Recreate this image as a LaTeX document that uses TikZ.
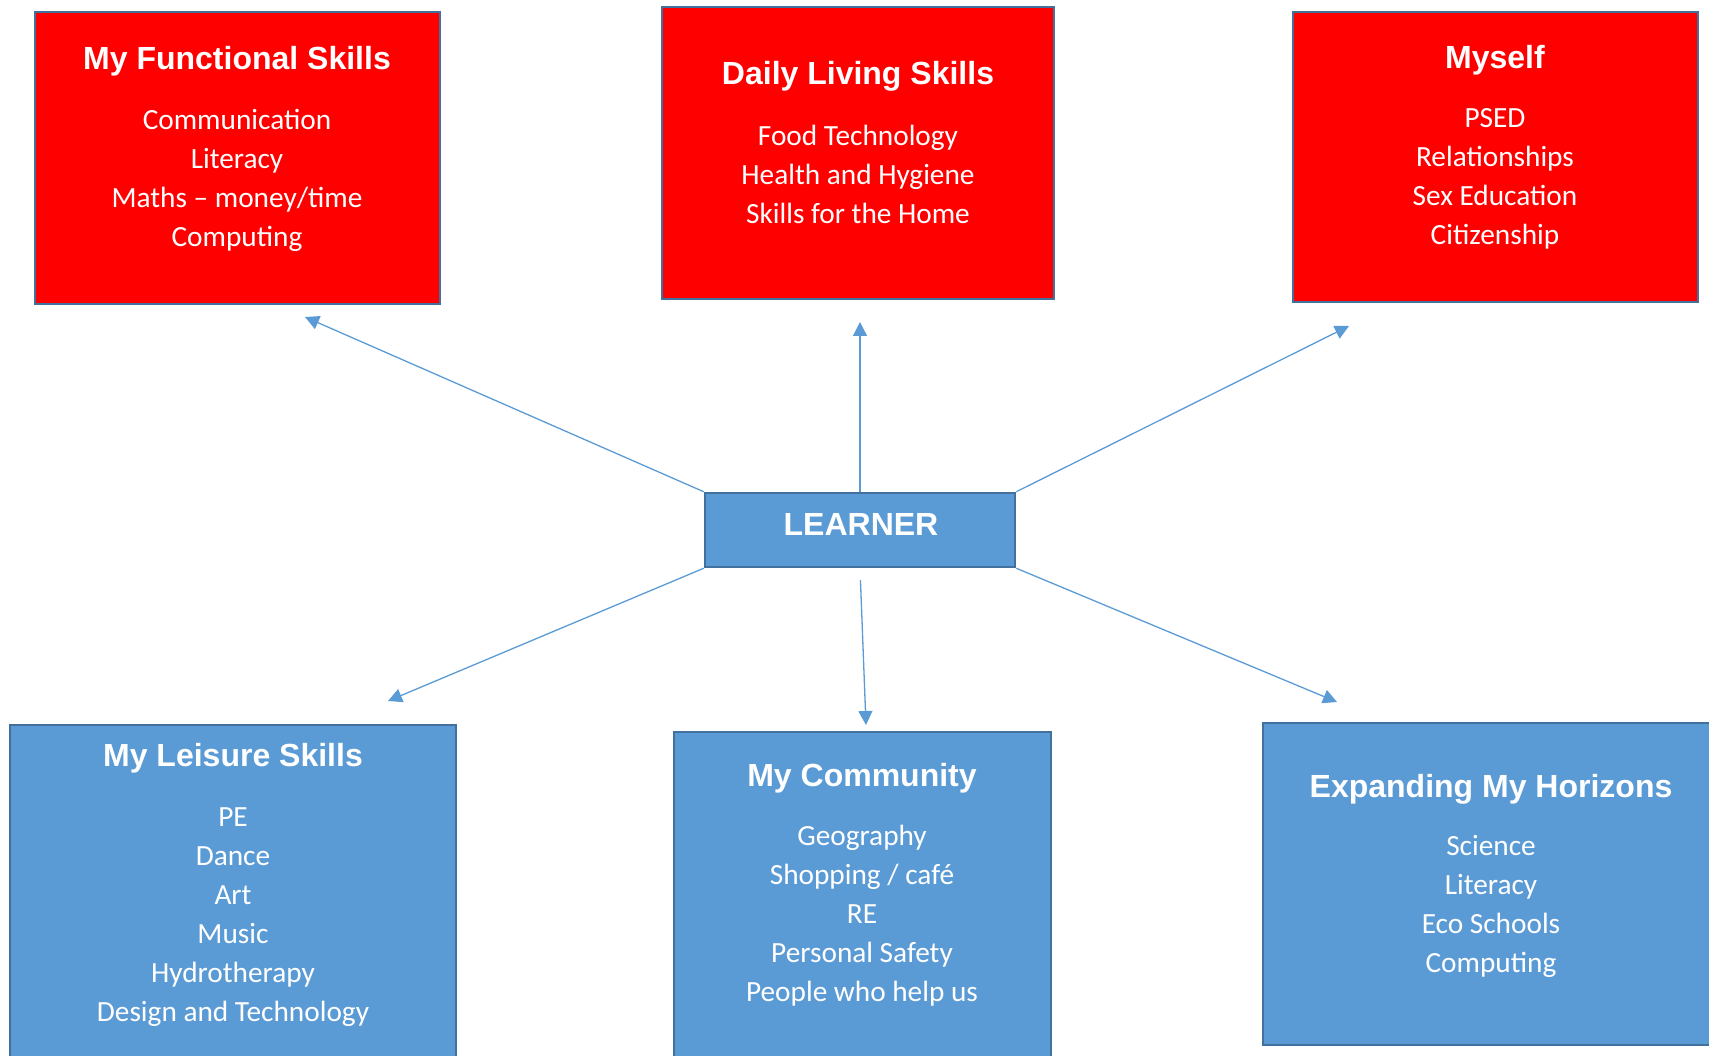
\documentclass[tikz,border=0pt]{standalone}
\usepackage{fontspec}
\setmainfont{Carlito}
\newfontfamily\headfont{Liberation Sans}
\usetikzlibrary{arrows.meta}
\definecolor{boxblue}{HTML}{5B9BD5}
\definecolor{edgeblue}{HTML}{41719C}
\definecolor{boxred}{HTML}{FF0000}
\tikzset{
  redbox/.style={draw=edgeblue, line width=2.5pt, fill=boxred, rectangle, inner sep=0pt},
  bluebox/.style={draw=edgeblue, line width=2.5pt, fill=boxblue, rectangle, inner sep=0pt},
  headtxt/.style={text=white, font=\headfont\bfseries\fontsize{32}{38}\selectfont, inner sep=0pt},
  bodytxt/.style={text=white, font=\fontsize{29.3}{39}\selectfont, align=center, inner sep=0pt},
  conn/.style={draw=boxblue, line width=1.3pt, -{Triangle[length=14pt,width=14pt]}}
}
\begin{document}
\begin{tikzpicture}[x=1pt,y=-1pt]
\useasboundingbox (0,0) rectangle (1709,1056);
\clip (0,0) rectangle (1709,1056);
% boxes
\node[redbox, minimum width=405pt, minimum height=292pt] (func) at (237.5,158) {};
\node[redbox, minimum width=392pt, minimum height=292pt] (daily) at (858,153) {};
\node[redbox, minimum width=405pt, minimum height=290pt] (myself) at (1495.5,157) {};
\node[bluebox, minimum width=310pt, minimum height=74pt] (learner) at (860,530) {};
\node[bluebox, minimum width=446pt, minimum height=345pt] (leisure) at (233,897.5) {};
\node[bluebox, minimum width=377pt, minimum height=338pt] (comm) at (862.5,901) {};
\node[bluebox, minimum width=457pt, minimum height=322pt] (horiz) at (1491.5,884) {};
% titles
\node[headtxt] (funcT) at (237,61.5) {My Functional Skills};
\node[headtxt] (dailyT) at (858,76.5) {Daily Living Skills};
\node[headtxt] (myselfT) at (1495,60.5) {Myself};
\node[headtxt] (learnerT) at (861,524) {LEARNER};
\node[headtxt] (leisureT) at (233,758.5) {My Leisure Skills};
\node[headtxt] (commT) at (862,778.5) {My Community};
\node[headtxt] (horizT) at (1491,789) {Expanding My Horizons};
% bodies
\node[bodytxt] (funcB) at (237,180.5) {Communication\\Literacy\\Maths -- money/time\\Computing};
\node[bodytxt] (dailyB) at (858,174) {Food Technology\\Health and Hygiene\\Skills for the Home};
\node[bodytxt] (myselfB) at (1495,179) {PSED\\Relationships\\Sex Education\\Citizenship};
\node[bodytxt] (leisureB) at (233,917) {PE\\Dance\\Art\\Music\\Hydrotherapy\\Design and Technology};
\node[bodytxt] (commB) at (862,916) {Geography\\Shopping / café\\RE\\Personal Safety\\People who help us};
\node[bodytxt] (horizB) at (1491,906.5) {Science\\Literacy\\Eco Schools\\Computing};
% arrow tips
\coordinate (t1) at (305,317);
\coordinate (t2) at (860,322);
\coordinate (t3) at (1349,326);
\coordinate (t4) at (388,701);
\coordinate (t5) at (866,725);
\coordinate (t6) at (1337,702);
\draw[conn] (learner.north west) -- (t1);
\draw[conn] (learner.north) -- (t2);
\draw[conn] (learner.north east) -- (t3);
\draw[conn] (learner.south west) -- (t4);
\draw[conn, shorten <=12pt] (learner.south) -- (t5);
\draw[conn] (learner.south east) -- (t6);
\end{tikzpicture}
\end{document}
